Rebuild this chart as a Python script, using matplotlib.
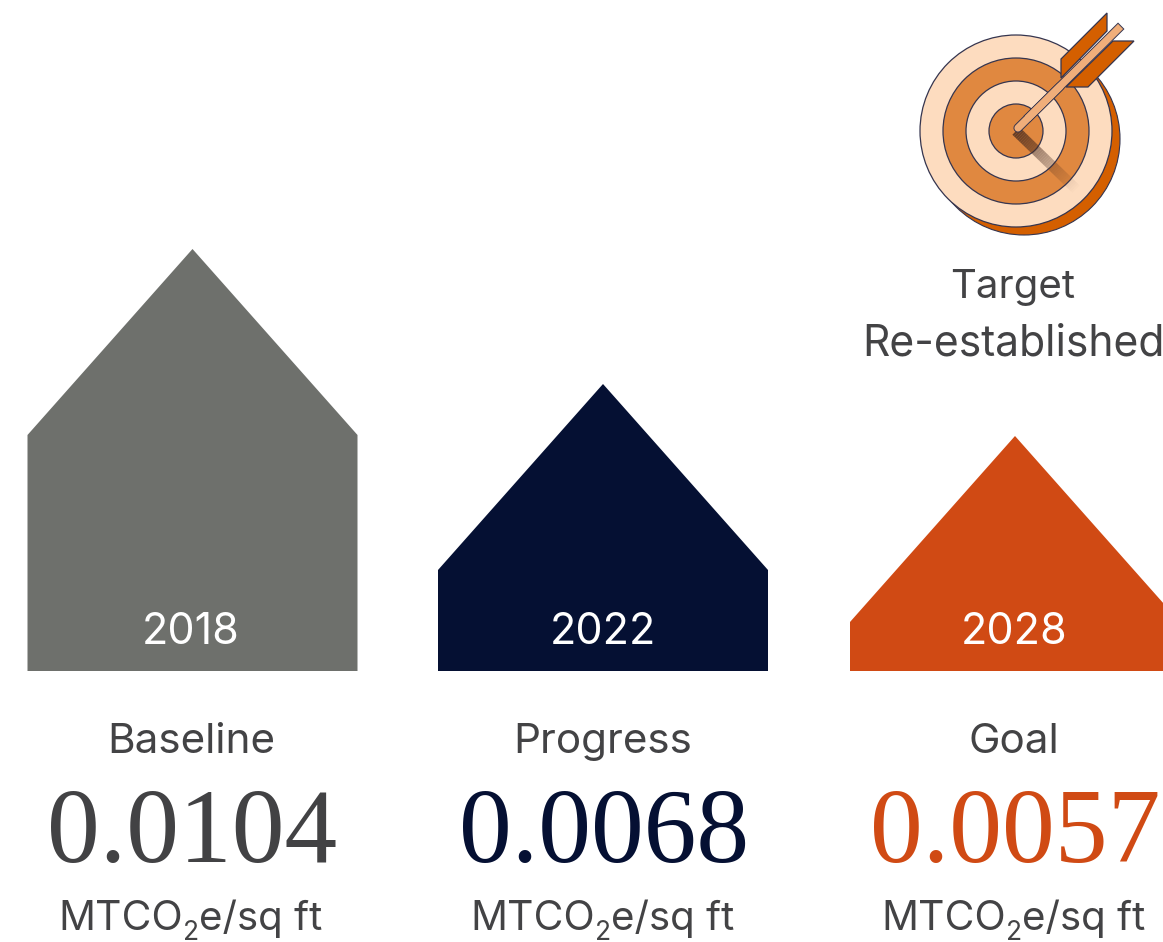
import matplotlib
matplotlib.use("Agg")
import matplotlib.pyplot as plt
from matplotlib.patches import Polygon, Circle

years = ["2018", "2022", "2028"]
names = ["Baseline", "Progress", "Goal"]
values = ["0.0104", "0.0068", "0.0057"]
house_heights = [422, 287, 235]
colors = ["#6E706C", "#051033", "#D04A14"]
value_colors = ["#424244", "#051033", "#D04A14"]

GREY = "#434345"
SANS = ["Inter", "DejaVu Sans"]
SERIF = ["Liberation Serif", "DejaVu Serif"]
BASE_Y = 671
ROOF = 186
HALF = 165
centers = [192.5, 603, 1015]
text_centers = [191, 603, 1014]

fig = plt.figure(figsize=(11.63, 9.42), dpi=100)
ax = fig.add_axes([0, 0, 1, 1])
ax.set_xlim(0, 1163)
ax.set_ylim(942, 0)
ax.axis("off")

for cx, tx, h, c, vc, yr, nm, val in zip(centers, text_centers, house_heights, colors,
                                         value_colors, years, names, values):
    top = BASE_Y - h
    ax.add_patch(Polygon([(cx - HALF, BASE_Y), (cx - HALF, top + ROOF), (cx, top),
                          (cx + HALF, top + ROOF), (cx + HALF, BASE_Y)],
                         closed=True, fc=c, ec="none", zorder=2))
    ax.text(tx, 644, yr, color="white", fontsize=31, family=SANS, ha="center", va="baseline", zorder=3)
    ax.text(tx, 753, nm, color=GREY, fontsize=30.4, family=SANS, ha="center", va="baseline")
    ax.text(tx + 1, 862, val, color=vc, fontsize=76, family=SERIF, ha="center", va="baseline")

# units label: main text, subscript, remainder placed side by side
fig.canvas.draw()
r = fig.canvas.get_renderer()
for tx in text_centers:
    parts = [("MTCO", 29.5, 930), ("2", 19, 940), ("e/sq ft", 29, 930)]
    items = [ax.text(0, y, s, color=GREY, fontsize=fs, family=SANS, ha="left", va="baseline")
             for s, fs, y in parts]
    widths = [it.get_window_extent(r).width for it in items]
    x = tx - 0.5 - sum(widths) / 2
    for it, w in zip(items, widths):
        it.set_x(x)
        x += w

# target icon
STROKE = "#35354F"
DARK = "#D45F00"
MID = "#E08840"
LIGHT = "#FDDCBF"
SHAFT = "#F0AE7A"
tcx, tcy = 1016, 131
ax.add_patch(Circle((1024, 139), 96, fc=DARK, ec=STROKE, lw=0.8, zorder=4))
for rad, col in zip([96, 73, 50, 27], [LIGHT, MID, LIGHT, MID]):
    ax.add_patch(Circle((tcx, tcy), rad, fc=col, ec=STROKE, lw=0.9, zorder=5))

# fading arrow shadow
steps = 40
for i in range(steps):
    f0, f1 = i / steps, (i + 1) / steps
    ax.plot([tcx + 60 * f0, tcx + 60 * f1], [tcy + 58 * f0, tcy + 58 * f1],
            color="#4A2C20", lw=7.5, alpha=0.8 * (1 - f0) ** 1.1,
            solid_capstyle="butt", zorder=6)

ax.add_patch(Polygon([(1061, 59), (1107, 13), (1107, 31), (1061, 78)], closed=True,
                     fc=DARK, ec=STROKE, lw=0.9, zorder=7))
ax.add_patch(Polygon([(1134, 41), (1088, 87), (1066, 87), (1113, 41)], closed=True,
                     fc=DARK, ec=STROKE, lw=0.9, zorder=7))
# shaft: round at the tip, square at the tail
ax.plot([1018, 1060], [128, 86.5], color=STROKE, lw=6.6, solid_capstyle="round", zorder=8)
ax.plot([1030, 1118], [116, 29], color=STROKE, lw=6.6, solid_capstyle="projecting", zorder=8)
ax.plot([1018, 1060], [128, 86.5], color=SHAFT, lw=5.2, solid_capstyle="round", zorder=9)
ax.plot([1030, 1118], [116, 29], color=SHAFT, lw=5.2, solid_capstyle="projecting", zorder=9)

ax.text(1013, 298, "Target", color=GREY, fontsize=29, family=SANS, ha="center", va="baseline")
ax.text(1014, 355, "Re-established", color=GREY, fontsize=30.7, family=SANS, ha="center", va="baseline")

fig.savefig("out.png", dpi=100, facecolor="white")
